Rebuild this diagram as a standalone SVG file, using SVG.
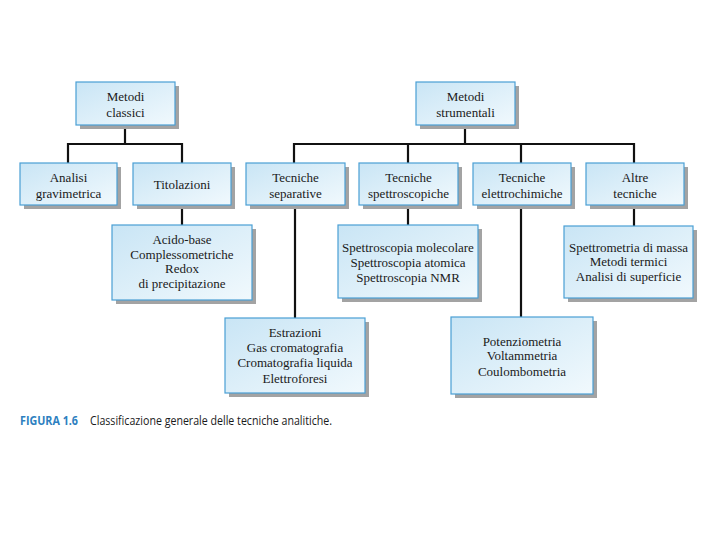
<svg xmlns="http://www.w3.org/2000/svg" width="720" height="540" viewBox="0 0 720 540">
<defs>
<linearGradient id="g" x1="0" y1="0" x2="1" y2="1">
<stop offset="0" stop-color="#c9e5f5"/>
<stop offset="1" stop-color="#f1f9fd"/>
</linearGradient>
</defs>
<style>
.sh{fill:#a3a3a3}
.bx{fill:url(#g);stroke:#4a9fd4;stroke-width:1.2}
.t{font-family:"Liberation Serif",serif;font-size:13px;fill:#1a1a1a;text-anchor:middle}
.c line{stroke:#111;stroke-width:2.2}
.cap{font-family:"Open Sans","DejaVu Sans",sans-serif;font-size:12.5px}
</style>
<rect width="720" height="540" fill="#fff"/>
<g class="c" id="connectors">
<line x1="125" y1="125" x2="125" y2="144"/>
<line x1="68" y1="144" x2="182" y2="144"/>
<line x1="68" y1="143" x2="68" y2="163"/>
<line x1="182" y1="143" x2="182" y2="163"/>
<line x1="182" y1="205" x2="182" y2="225"/>
<line x1="465" y1="125" x2="465" y2="144"/>
<line x1="294" y1="144" x2="634" y2="144"/>
<line x1="294" y1="143" x2="294" y2="163"/>
<line x1="408" y1="143" x2="408" y2="163"/>
<line x1="521" y1="143" x2="521" y2="163"/>
<line x1="634" y1="143" x2="634" y2="163"/>
<line x1="295" y1="205" x2="295" y2="318"/>
<line x1="408" y1="205" x2="408" y2="225"/>
<line x1="521" y1="205" x2="521" y2="317"/>
<line x1="634" y1="205" x2="634" y2="226"/>
</g>
<g id="n1"><rect class="sh" x="80" y="86" width="99" height="43"/><rect class="bx" x="76" y="82" width="99" height="43"/>
<text class="t" x="125.5" y="101">Metodi</text><text class="t" x="125.5" y="117">classici</text></g>
<g id="n2"><rect class="sh" x="420" y="86" width="99" height="43"/><rect class="bx" x="416" y="82" width="99" height="43"/>
<text class="t" x="465.5" y="101">Metodi</text><text class="t" x="465.5" y="117">strumentali</text></g>
<g id="n3"><rect class="sh" x="24" y="167" width="97" height="42"/><rect class="bx" x="20" y="163" width="97" height="42"/>
<text class="t" x="68.5" y="182">Analisi</text><text class="t" x="68.5" y="198">gravimetrica</text></g>
<g id="n4"><rect class="sh" x="137" y="167" width="98" height="42"/><rect class="bx" x="133" y="163" width="98" height="42"/>
<text class="t" x="182" y="189">Titolazioni</text></g>
<g id="n5"><rect class="sh" x="250" y="167" width="99" height="42"/><rect class="bx" x="246" y="163" width="99" height="42"/>
<text class="t" x="295.5" y="182">Tecniche</text><text class="t" x="295.5" y="198">separative</text></g>
<g id="n6"><rect class="sh" x="363" y="167" width="99" height="42"/><rect class="bx" x="359" y="163" width="99" height="42"/>
<text class="t" x="408.5" y="182">Tecniche</text><text class="t" x="408.5" y="198">spettroscopiche</text></g>
<g id="n7"><rect class="sh" x="477" y="167" width="98" height="42"/><rect class="bx" x="473" y="163" width="98" height="42"/>
<text class="t" x="522" y="182">Tecniche</text><text class="t" x="522" y="198">elettrochimiche</text></g>
<g id="n8"><rect class="sh" x="590" y="167" width="98" height="42"/><rect class="bx" x="586" y="163" width="98" height="42"/>
<text class="t" x="635" y="182">Altre</text><text class="t" x="635" y="198">tecniche</text></g>
<g id="n9"><rect class="sh" x="116" y="229" width="140" height="75"/><rect class="bx" x="112" y="225" width="140" height="75"/>
<text class="t" x="182" y="244">Acido-base</text><text class="t" x="182" y="258.5">Complessometriche</text><text class="t" x="182" y="273">Redox</text><text class="t" x="182" y="287.5">di precipitazione</text></g>
<g id="n10"><rect class="sh" x="342" y="229" width="140" height="73"/><rect class="bx" x="338" y="225" width="140" height="73"/>
<text class="t" x="408" y="252">Spettroscopia molecolare</text><text class="t" x="408" y="267">Spettroscopia atomica</text><text class="t" x="408" y="282">Spettroscopia NMR</text></g>
<g id="n11"><rect class="sh" x="568" y="230" width="129" height="72"/><rect class="bx" x="564" y="226" width="129" height="72"/>
<text class="t" x="628.5" y="252">Spettrometria di massa</text><text class="t" x="628.5" y="266">Metodi termici</text><text class="t" x="628.5" y="281">Analisi di superficie</text></g>
<g id="n12"><rect class="sh" x="229" y="322" width="140" height="75"/><rect class="bx" x="225" y="318" width="140" height="75"/>
<text class="t" x="295" y="337">Estrazioni</text><text class="t" x="295" y="352">Gas cromatografia</text><text class="t" x="295" y="367">Cromatografia liquida</text><text class="t" x="295" y="383">Elettroforesi</text></g>
<g id="n13"><rect class="sh" x="455" y="321" width="142" height="77"/><rect class="bx" x="451" y="317" width="142" height="77"/>
<text class="t" x="522" y="346">Potenziometria</text><text class="t" x="522" y="360">Voltammetria</text><text class="t" x="522" y="376">Coulombometria</text></g>
<g id="caption">
<text class="cap" x="20" y="425" fill="#2d7fc0" font-weight="bold" textLength="58" lengthAdjust="spacingAndGlyphs">FIGURA 1.6</text>
<text class="cap" x="90" y="425" fill="#1a1a1a" textLength="242" lengthAdjust="spacingAndGlyphs">Classificazione generale delle tecniche analitiche.</text>
</g>
</svg>
